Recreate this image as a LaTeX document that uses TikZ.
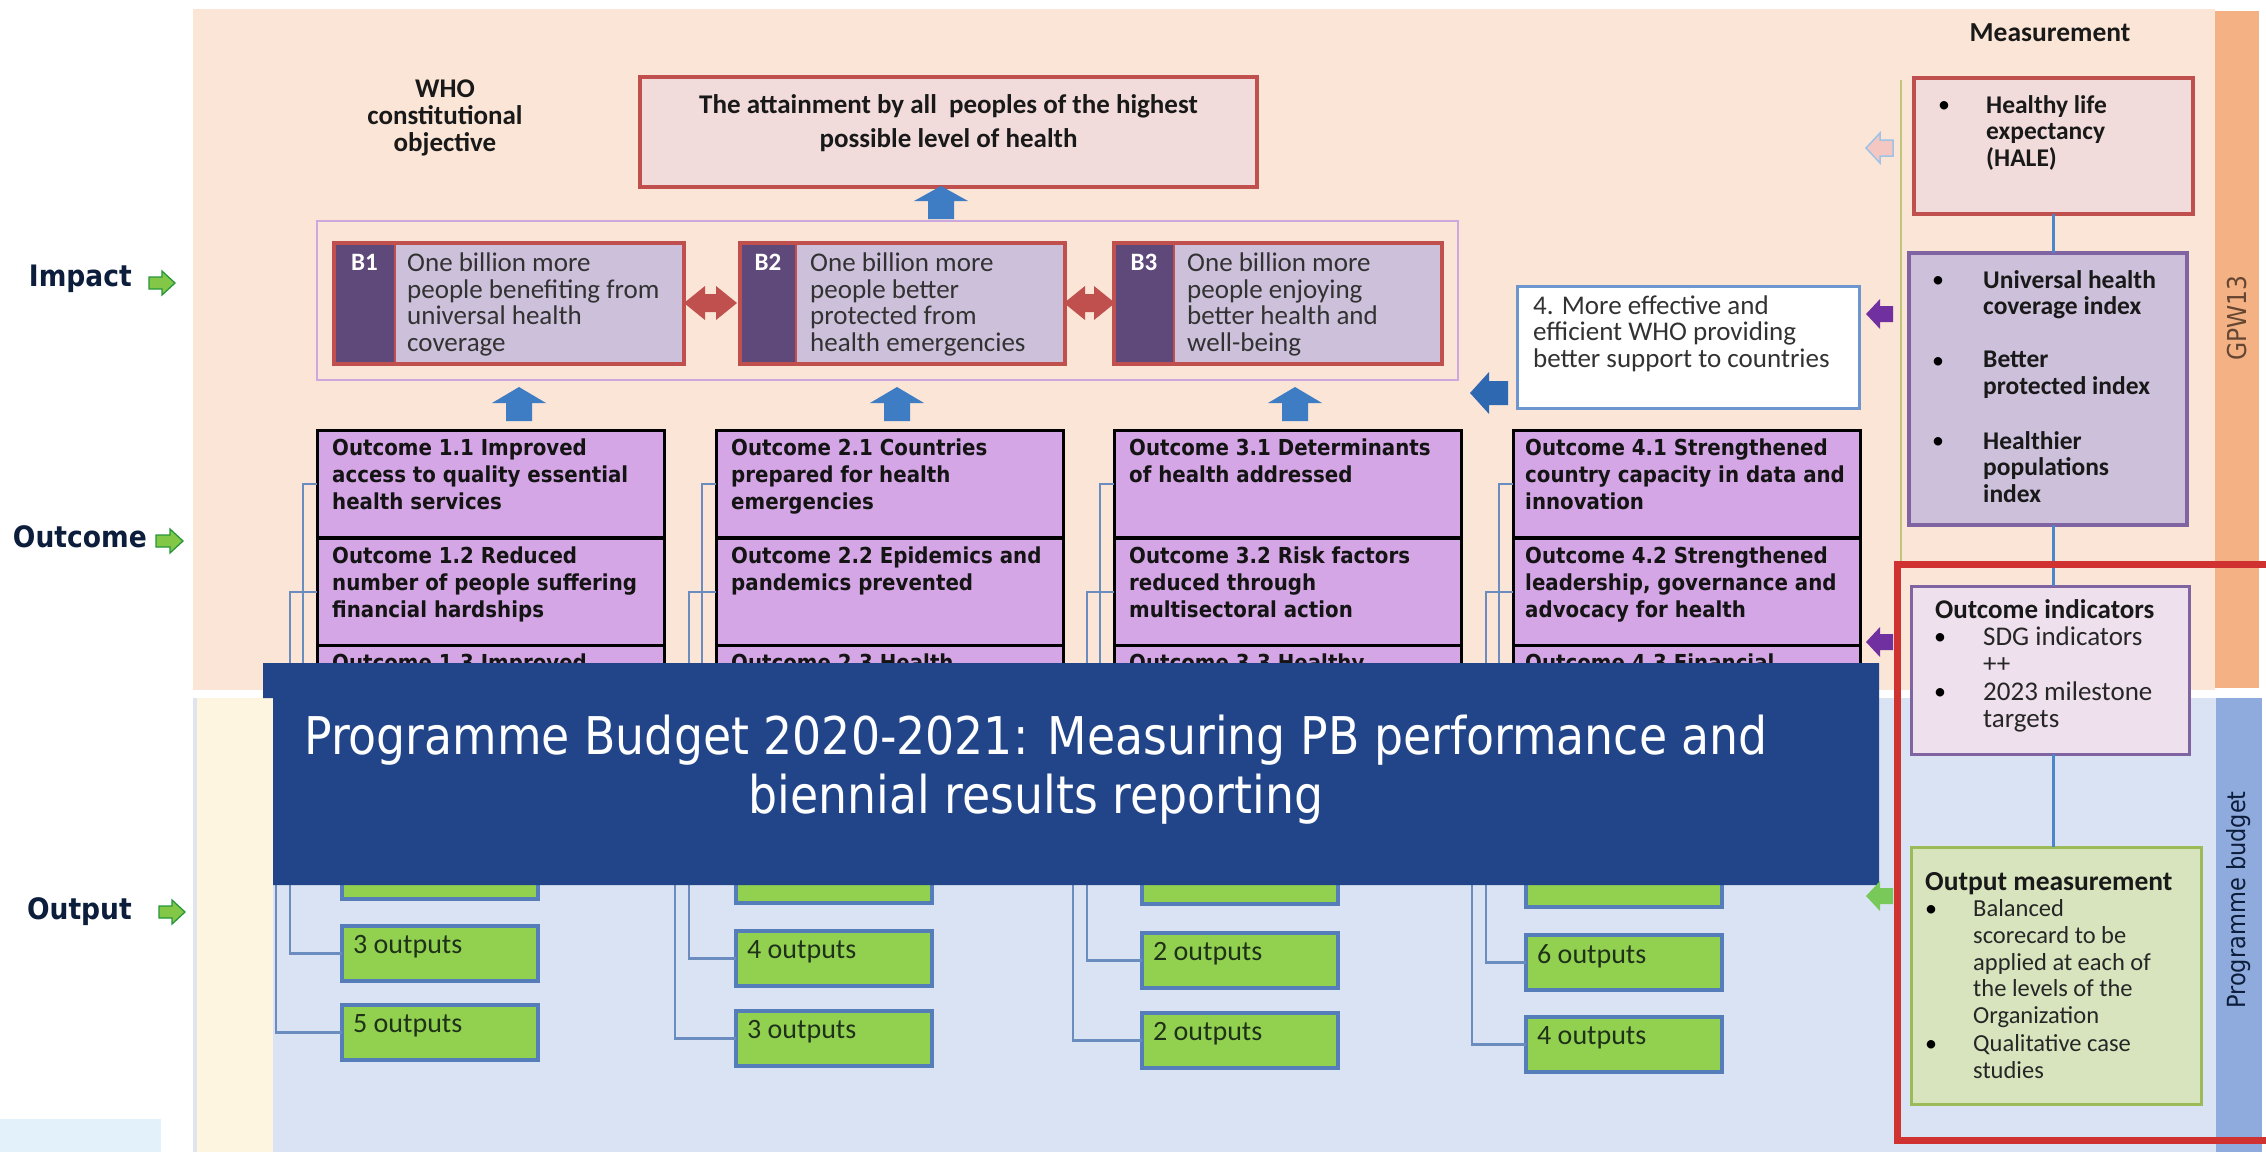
\documentclass[tikz,border=0pt]{standalone}
\usepackage{fontspec}
\setmainfont{Carlito}
\newfontfamily\tahfont[FakeStretch=0.9]{DejaVu Sans}
\newfontfamily\banfont[FakeStretch=0.88]{DejaVu Sans}
\usetikzlibrary{calc}
\definecolor{peach}{RGB}{251,229,214}
\definecolor{orangeband}{RGB}{244,177,131}
\definecolor{outbg}{RGB}{218,227,243}
\definecolor{pbband}{RGB}{143,170,220}
\definecolor{cream}{RGB}{253,245,224}
\definecolor{paleblue}{RGB}{226,241,250}
\definecolor{bannerc}{RGB}{34,69,138}
\definecolor{redb}{RGB}{192,80,77}
\definecolor{pinkfill}{RGB}{242,220,219}
\definecolor{blav}{RGB}{204,192,218}
\definecolor{bpurple}{RGB}{95,73,122}
\definecolor{lavframe}{RGB}{205,168,222}
\definecolor{orchid}{RGB}{213,166,229}
\definecolor{grn}{RGB}{146,208,80}
\definecolor{grnborder}{RGB}{84,125,185}
\definecolor{connc}{RGB}{106,140,190}
\definecolor{arrowblue}{RGB}{62,124,196}
\definecolor{darkarrowblue}{RGB}{46,104,176}
\definecolor{purplearrow}{RGB}{112,48,160}
\definecolor{boxblue}{RGB}{108,150,205}
\definecolor{purpleborder}{RGB}{128,100,162}
\definecolor{oifill}{RGB}{238,224,236}
\definecolor{omfill}{RGB}{215,228,189}
\definecolor{omborder}{RGB}{155,187,89}
\definecolor{hired}{RGB}{208,50,50}
\definecolor{olivec}{RGB}{190,198,120}
\definecolor{navy}{RGB}{12,30,60}
\definecolor{textgray}{RGB}{50,50,50}
\definecolor{gtextc}{RGB}{30,50,25}
\definecolor{vlinec}{RGB}{74,134,200}
\definecolor{labelgreen}{RGB}{130,200,70}
\definecolor{labelgreenb}{RGB}{40,150,60}
\definecolor{sidegreen}{RGB}{120,200,90}
\definecolor{pinkarrow}{RGB}{244,199,195}
\definecolor{pinkarrowb}{RGB}{157,195,230}
\definecolor{gpwtext}{RGB}{100,70,50}
\definecolor{linegray}{RGB}{222,228,240}
% horizontal block arrow: style, tail x, head-base x, tip x, y centre, half shaft, half head
\newcommand{\whoHArrow}[7]{\path[#1] ({#2},{#5-#6}) -- ({#3},{#5-#6}) -- ({#3},{#5-#7}) -- ({#4},{#5}) -- ({#3},{#5+#7}) -- ({#3},{#5+#6}) -- ({#2},{#5+#6}) -- cycle;}
% vertical block arrow: style, x centre, tail y, head-base y, tip y, half shaft, half head
\newcommand{\whoVArrow}[7]{\path[#1] ({#2-#6},{#3}) -- ({#2-#6},{#4}) -- ({#2-#7},{#4}) -- ({#2},{#5}) -- ({#2+#7},{#4}) -- ({#2+#6},{#4}) -- ({#2+#6},{#3}) -- cycle;}
% double horizontal arrow: style, left tip, right tip, y centre, half shaft, half head, head length
\newcommand{\whoDArrow}[7]{\path[#1] ({#2},{#4}) -- ({#2+#7},{#4-#6}) -- ({#2+#7},{#4-#5}) -- ({#3-#7},{#4-#5}) -- ({#3-#7},{#4-#6}) -- ({#3},{#4}) -- ({#3-#7},{#4+#6}) -- ({#3-#7},{#4+#5}) -- ({#2+#7},{#4+#5}) -- ({#2+#7},{#4+#6}) -- cycle;}
\begin{document}
\begin{tikzpicture}[x=1pt,y=-1pt,
  box/.style={rectangle, inner sep=0pt, outer sep=0pt, anchor=north west},
  obox/.style={box, draw=black, line width=3pt, fill=orchid, minimum width=347pt, minimum height=107.5pt},
  gbox/.style={box, draw=grnborder, line width=3.5pt, fill=grn, minimum width=196pt, minimum height=55pt},
  otext/.style={anchor=north west, inner sep=0pt, align=left, text=black!92, font=\tahfont\bfseries\fontsize{22}{27}\selectfont},
  gtext/.style={anchor=west, inner sep=0pt, text=gtextc, font=\fontsize{28}{30}\selectfont},
  btext/.style={anchor=north west, inner sep=0pt, align=left, text=textgray, font=\fontsize{27}{26.5}\selectfont},
  mtext/.style={anchor=north west, inner sep=0pt, align=left, text=black!90, font=\bfseries\fontsize{25.5}{26.7}\selectfont},
  rtext/.style={anchor=north west, inner sep=0pt, align=left, text=black!85, font=\fontsize{27}{27}\selectfont},
  ortext/.style={anchor=north west, inner sep=0pt, align=left, text=black!85, font=\fontsize{24.5}{26.7}\selectfont},
  bul/.style={anchor=base, inner sep=0pt, font=\fontsize{24}{26}\selectfont},
  lbl/.style={anchor=east, inner sep=0pt, text=navy, font=\tahfont\bfseries\fontsize{29.5}{31}\selectfont},
  conn/.style={draw=connc, line width=2.5pt},
  vline/.style={draw=vlinec, line width=2.5pt}
]
\useasboundingbox (0,0) rectangle (2266,1152);
\fill[white] (0,0) rectangle (2266,1152);
% backgrounds
\fill[paleblue] (0,1119) rectangle (161,1152);
\fill[peach] (193,9) rectangle (2215,690);
\fill[orangeband] (2215,11) rectangle (2259,688);
\fill[linegray] (193,698) rectangle (197,1152);
\fill[cream] (197,698) rectangle (273,1152);
\fill[outbg] (273,698) rectangle (2216,1152);
\fill[pbband] (2216,698) rectangle (2262,1152);
\node[rotate=90, inner sep=0pt, text=gpwtext, font=\tahfont\fontsize{26}{28}\selectfont] (gpw) at (2237,318) {GPW13};
\node[rotate=90, inner sep=0pt, text=navy, font=\tahfont\fontsize{25}{28}\selectfont] (pb) at (2239,900) {Programme budget};

% left labels
\node[lbl] (limpact) at (132,279) {Impact};
\node[lbl] (loutcome) at (147,537) {Outcome};
\node[lbl] (loutput) at (132,912) {Output};
\whoHArrow{fill=labelgreen, draw=labelgreenb, line width=1.3pt}{149}{162}{175}{283}{6}{12}
\whoHArrow{fill=labelgreen, draw=labelgreenb, line width=1.3pt}{156}{170}{183}{541}{6}{12}
\whoHArrow{fill=labelgreen, draw=labelgreenb, line width=1.3pt}{159}{172}{185}{912}{6}{12}

% constitutional objective
\node[align=center, inner sep=0pt, text=black!90, font=\bfseries\fontsize{27}{27}\selectfont] (who) at (445,118) {WHO\\constitutional\\objective};
\node[box, draw=redb, line width=3.5pt, fill=pinkfill, minimum width=617pt, minimum height=110pt] (goal) at (640,77) {};
\node[align=center, inner sep=0pt, text=black!90, font=\bfseries\fontsize{27}{33.5}\selectfont] (goaltext) at (948.5,123) {The attainment by all\ \ peoples of the highest\\possible level of health};
\whoVArrow{fill=arrowblue}{941}{219}{201}{186}{13}{27}

% billion frame
\node[box, draw=lavframe, line width=2pt, minimum width=1141pt, minimum height=159pt] (bframe) at (317,221) {};
\foreach \nm/\x/\w/\pw/\lab in {b1/334/350/61/B1, b2/740/325/56/B2, b3/1114/328/60/B3}{
  \node[box, fill=blav, minimum width=\w pt, minimum height=121pt] (\nm) at (\x,243) {};
  \fill[bpurple] (\nm.north west) rectangle ($(\nm.south west)+(\pw,0)$);
  \draw[redb, line width=3.5pt] (\nm.north west) rectangle (\nm.south east);
  \draw[redb, line width=2.5pt] ($(\nm.north west)+(\pw,0)$) -- ($(\nm.south west)+(\pw,0)$);
  \node[anchor=base, inner sep=0pt, text=white, font=\bfseries\fontsize{25}{26}\selectfont] (\nm lab) at ($(\nm.north west)+(0.5*\pw,27)$) {\lab};
}
\node[btext] (b1t) at (407,253) {One billion more\\people benefiting from\\universal health\\coverage};
\node[btext] (b2t) at (810,253) {One billion more\\people better\\protected from\\health emergencies};
\node[btext] (b3t) at (1187,253) {One billion more\\people enjoying\\better health and\\well-being};
\whoDArrow{fill=redb}{684}{737}{303}{9}{17}{21}
\whoDArrow{fill=redb}{1064}{1115}{303}{9}{17}{21}
\whoVArrow{fill=arrowblue}{519}{421}{403}{387}{13}{27}
\whoVArrow{fill=arrowblue}{897}{421}{403}{387}{13}{27}
\whoVArrow{fill=arrowblue}{1295}{421}{403}{387}{13}{27}

% box 4
\node[box, draw=boxblue, line width=3pt, fill=white, minimum width=342pt, minimum height=122pt] (four) at (1517,286) {};
\node[btext] (fourt) at (1533,295.5) {4. More effective and\\efficient WHO providing\\better support to countries};
\whoHArrow{fill=darkarrowblue}{1508}{1489}{1470}{393}{12}{21}

% outcome columns
\foreach \c/\x in {1/317, 2/716, 3/1114, 4/1513}{
  \node[obox] (o\c1) at (\x,430) {};
  \node[obox] (o\c2) at (\x,538) {};
  \node[obox] (o\c3) at (\x,645) {};
}
\node[otext] (t11) at ($(o11.north west)+(15,9)$) {Outcome 1.1 Improved\\access to quality essential\\health services};
\node[otext] (t12) at ($(o12.north west)+(15,9)$) {Outcome 1.2 Reduced\\number of people suffering\\financial hardships};
\node[otext] (t13) at ($(o13.north west)+(15,9)$) {Outcome 1.3 Improved};
\node[otext] (t21) at ($(o21.north west)+(15,9)$) {Outcome 2.1 Countries\\prepared for health\\emergencies};
\node[otext] (t22) at ($(o22.north west)+(15,9)$) {Outcome 2.2 Epidemics and\\pandemics prevented};
\node[otext] (t23) at ($(o23.north west)+(15,9)$) {Outcome 2.3 Health};
\node[otext] (t31) at ($(o31.north west)+(15,9)$) {Outcome 3.1 Determinants\\of health addressed};
\node[otext] (t32) at ($(o32.north west)+(15,9)$) {Outcome 3.2 Risk factors\\reduced through\\multisectoral action};
\node[otext] (t33) at ($(o33.north west)+(15,9)$) {Outcome 3.3 Healthy};
\node[otext] (t41) at ($(o41.north west)+(12,9)$) {Outcome 4.1 Strengthened\\country capacity in data and\\innovation};
\node[otext] (t42) at ($(o42.north west)+(12,9)$) {Outcome 4.2 Strengthened\\leadership, governance and\\advocacy for health};
\node[otext] (t43) at ($(o43.north west)+(12,9)$) {Outcome 4.3 Financial};

% output boxes
\foreach \c/\x/\ya/\yb/\yc in {1/342/844/926/1005, 2/736/848/931/1011, 3/1142/849/933/1013, 4/1526/852/935/1017}{
  \node[gbox] (g\c1) at (\x,\ya) {};
  \node[gbox] (g\c2) at (\x,\yb) {};
  \node[gbox] (g\c3) at (\x,\yc) {};
  \draw[conn] (o\c1.west) -- ++(-14,0) |- (g\c1.west);
  \draw[conn] (o\c2.west) -- ++(-27,0) |- (g\c2.west);
  \draw[conn] (o\c3.west) -- ++(-41,0) |- (g\c3.west);
}
\node[gtext] (n12) at ($(g12.north west)+(11,21)$) {3 outputs};
\node[gtext] (n13) at ($(g13.north west)+(11,21)$) {5 outputs};
\node[gtext] (n22) at ($(g22.north west)+(11,21)$) {4 outputs};
\node[gtext] (n23) at ($(g23.north west)+(11,21)$) {3 outputs};
\node[gtext] (n32) at ($(g32.north west)+(11,21)$) {2 outputs};
\node[gtext] (n33) at ($(g33.north west)+(11,21)$) {2 outputs};
\node[gtext] (n42) at ($(g42.north west)+(11,21)$) {6 outputs};
\node[gtext] (n43) at ($(g43.north west)+(11,21)$) {4 outputs};

% banner
\fill[bannerc] (263,663) -- (1879,663) -- (1879,885) -- (273,885) -- (273,698) -- (263,698) -- cycle;
\node[align=center, inner sep=0pt, text=white, font=\banfont\fontsize{52}{59}\selectfont] (title) at (1036,769.5) {Programme Budget 2020-2021: Measuring PB performance and\\biennial results reporting};

% measurement column
\node[inner sep=0pt, text=black!90, font=\bfseries\fontsize{27.5}{28}\selectfont] (meas) at (2050,33) {Measurement};
\draw[olivec, line width=2.5pt] (1901,80) -- (1901,564);
\node[box, draw=redb, line width=3.5pt, fill=pinkfill, minimum width=279pt, minimum height=136pt] (hale) at (1914,78) {};
\node[box, draw=purpleborder, line width=3.5pt, fill=blav, minimum width=278pt, minimum height=272pt] (big) at (1909,253) {};
\node[box, draw=purpleborder, line width=3pt, fill=oifill, minimum width=278pt, minimum height=168pt] (oi) at (1911,586) {};
\node[box, draw=omborder, line width=3pt, fill=omfill, minimum width=290pt, minimum height=257pt] (om) at (1911,847) {};
\draw[vline] (hale.south) -- (hale.south |- big.north);
\draw[vline] (hale.south |- big.south) -- (hale.south |- oi.north);
\draw[vline] (hale.south |- oi.south) -- (hale.south |- om.north);

\node[bul] (hb1) at (1944,112) {\textbullet};
\node[mtext] (ht) at (1986,95) {Healthy life\\expectancy\\(HALE)};
\node[bul] (bb1) at (1938,287) {\textbullet};
\node[mtext] (bt1) at (1983,270) {Universal health\\coverage index};
\node[bul] (bb2) at (1938,368) {\textbullet};
\node[mtext] (bt2) at (1983,351) {Better\\protected index};
\node[bul] (bb3) at (1938,448) {\textbullet};
\node[mtext] (bt3) at (1983,431) {Healthier\\populations\\index};

\node[anchor=north west, inner sep=0pt, text=black!90, font=\bfseries\fontsize{27}{28}\selectfont] (oititle) at (1935,599) {Outcome indicators};
\node[bul] (ob1) at (1940,644) {\textbullet};
\node[rtext] (ot1) at (1983,626.5) {SDG indicators\\++};
\node[bul] (ob2) at (1940,699) {\textbullet};
\node[rtext] (ot2) at (1983,681.5) {2023 milestone\\targets};

\node[anchor=north west, inner sep=0pt, text=black!90, font=\bfseries\fontsize{27.5}{28}\selectfont] (omtitle) at (1925,872.5) {Output measurement};
\node[bul] (mb1) at (1931,916) {\textbullet};
\node[ortext] (mt1) at (1973,899.5) {Balanced\\scorecard to be\\applied at each of\\the levels of the\\Organization};
\node[bul] (mb2) at (1931,1051) {\textbullet};
\node[ortext] (mt2) at (1973,1034.5) {Qualitative case\\studies};

% side arrows
\whoHArrow{fill=pinkarrow, draw=pinkarrowb, line width=1.5pt}{1893}{1880}{1866}{148}{8}{15}
\whoHArrow{fill=purplearrow}{1893}{1880}{1866}{314}{8}{15}
\whoHArrow{fill=purplearrow}{1893}{1880}{1866}{642}{8}{15}
\whoHArrow{fill=sidegreen}{1893}{1880}{1866}{896}{8}{15}

% highlight
\draw[hired, line width=7pt] (1897,564) rectangle (2290,1140);
\end{tikzpicture}
\end{document}
